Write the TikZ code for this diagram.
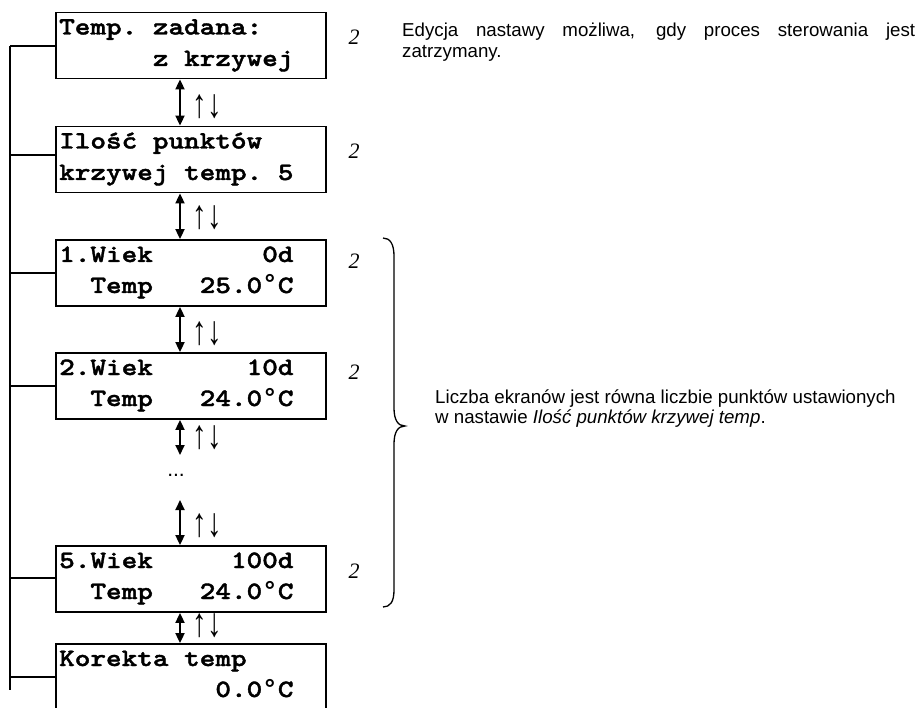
\documentclass[tikz,border=0pt]{standalone}
\usepackage{fontspec}
\setmainfont{Liberation Sans}
\newfontfamily\tnrfont{Liberation Serif}
\newfontfamily\lcdfont{lmmonolt10-bold.otf}[FakeStretch=1.19,FakeBold=1.6]
\newfontfamily\lmonofont{Liberation Mono}
\newcommand\degsym{{\lmonofont\bfseries\fontsize{26}{31}\selectfont °}}
\usetikzlibrary{arrows.meta}
\begin{document}
\begin{tikzpicture}[x=1pt,y=-1pt,
 lcdbox/.style={draw, line width=1.8pt, minimum width=270pt, minimum height=66pt, inner sep=0pt},
 lcdtxt/.style={anchor=base west, inner sep=0pt, font=\lcdfont\fontsize{25}{31}\selectfont},
 numlbl/.style={inner sep=0pt, font=\tnrfont\itshape\fontsize{22}{26}\selectfont},
 updn/.style={inner sep=0pt, font=\tnrfont\fontsize{29}{32}\selectfont},
 note/.style={anchor=base west, inner sep=0pt, font=\fontsize{18.7}{21}\selectfont},
 dbl/.style={line width=1.8pt, {Triangle[length=10pt,width=9pt]}-{Triangle[length=10pt,width=9pt]}},
 trunk/.style={line width=1.3pt}]

\useasboundingbox (0,0) rectangle (920,708);
\fill[white] (0,0) rectangle (920,708);
\clip (0,0) rectangle (920,708);

% boxes
\node[lcdbox] (b1) at (191,45.5) {};
\node[lcdbox] (b2) at (191,159.5) {};
\node[lcdbox] (b3) at (191,273) {};
\node[lcdbox] (b4) at (191,386) {};
\node[lcdbox] (b5) at (191,579) {};
\node[lcdbox] (b6) at (191,677) {};

% box texts
\node[lcdtxt] (b1l1) at (59,34.5) {Temp.~zadana:};
\node[lcdtxt] (b1l2) at (59,66) {~~~~~~z~krzywej};
\node[lcdtxt] (b2l1) at (59,148.5) {Ilość~punktów};
\node[lcdtxt] (b2l2) at (59,180) {krzywej~temp.~5};
\node[lcdtxt] (b3l1) at (59,262) {1.Wiek~~~~~~~0d};
\node[lcdtxt] (b3l2) at (59,293) {~~Temp~~~25.0\degsym C};
\node[lcdtxt] (b4l1) at (59,375) {2.Wiek~~~~~~10d};
\node[lcdtxt] (b4l2) at (59,406) {~~Temp~~~24.0\degsym C};
\node[lcdtxt] (b5l1) at (59,568) {5.Wiek~~~~~100d};
\node[lcdtxt] (b5l2) at (59,599) {~~Temp~~~24.0\degsym C};
\node[lcdtxt] (b6l1) at (59,666) {Korekta~temp};
\node[lcdtxt] (b6l2) at (59,697) {~~~~~~~~~~0.0\degsym C};

% trunk on the left
\coordinate (c1) at (10,46);
\coordinate (c2) at (10,155);
\coordinate (c3) at (10,273);
\coordinate (c4) at (10,386);
\coordinate (c5) at (10,578);
\coordinate (c6) at (10,677);
\coordinate (cend) at (10,690);
\draw[trunk] (c1) -- (cend);
\draw[trunk] (c1) -- (c1 -| b1.west);
\draw[trunk] (c2) -- (c2 -| b2.west);
\draw[trunk] (c3) -- (c3 -| b3.west);
\draw[trunk] (c4) -- (c4 -| b4.west);
\draw[trunk] (c5) -- (c5 -| b5.west);
\draw[trunk] (c6) -- (c6 -| b6.west);

% double arrows
\coordinate (ax) at (180,0);
\coordinate (d1) at (180,455);
\coordinate (d2) at (180,500);
\draw[dbl] (ax |- b1.south) -- (ax |- b2.north);
\draw[dbl] (ax |- b2.south) -- (ax |- b3.north);
\draw[dbl] (ax |- b3.south) -- (ax |- b4.north);
\draw[dbl] (ax |- b4.south) -- (d1);
\draw[dbl] (d2) -- (ax |- b5.north);
\draw[dbl] (ax |- b5.south) -- (ax |- b6.north);

\node[inner sep=0pt, font=\fontsize{21}{24}\selectfont] (dots) at (176,475) {...};

% up/down labels
\node[updn] (u1) at (207,107) {\scalebox{1}[1.4]{↑↓}};
\node[updn] (u2) at (207,218) {\scalebox{1}[1.4]{↑↓}};
\node[updn] (u3) at (207,334) {\scalebox{1}[1.4]{↑↓}};
\node[updn] (u4) at (207,438) {\scalebox{1}[1.4]{↑↓}};
\node[updn] (u5) at (207,526) {\scalebox{1}[1.4]{↑↓}};
\node[updn] (u6) at (207,626) {\scalebox{1}[1.4]{↑↓}};

% level labels
\node[numlbl] (n1) at (354,37.5) {2};
\node[numlbl] (n2) at (354,151) {2};
\node[numlbl] (n3) at (354,261) {2};
\node[numlbl] (n4) at (354,372) {2};
\node[numlbl] (n5) at (354,571) {2};

% brace
\draw[line width=1.3pt] (383,238) .. controls (390,238) and (394,244) .. (394,256)
  -- (394,408) .. controls (394,420) and (398,426) .. (405,426)
  .. controls (398,426) and (394,432) .. (394,444)
  -- (394,590) .. controls (394,602) and (390,607) .. (383,607);

% notes
\node[note] (t1a) at (402,36.7) {\makebox[513pt][s]{Edycja nastawy możliwa, gdy proces sterowania jest}};
\node[note] (t1b) at (402,58) {zatrzymany.};
\node[note] (t2a) at (435,403.5) {Liczba ekranów jest równa liczbie punktów ustawionych};
\node[note] (t2b) at (435,423.5) {w nastawie \textit{Ilość punktów krzywej temp}.};
\end{tikzpicture}
\end{document}
